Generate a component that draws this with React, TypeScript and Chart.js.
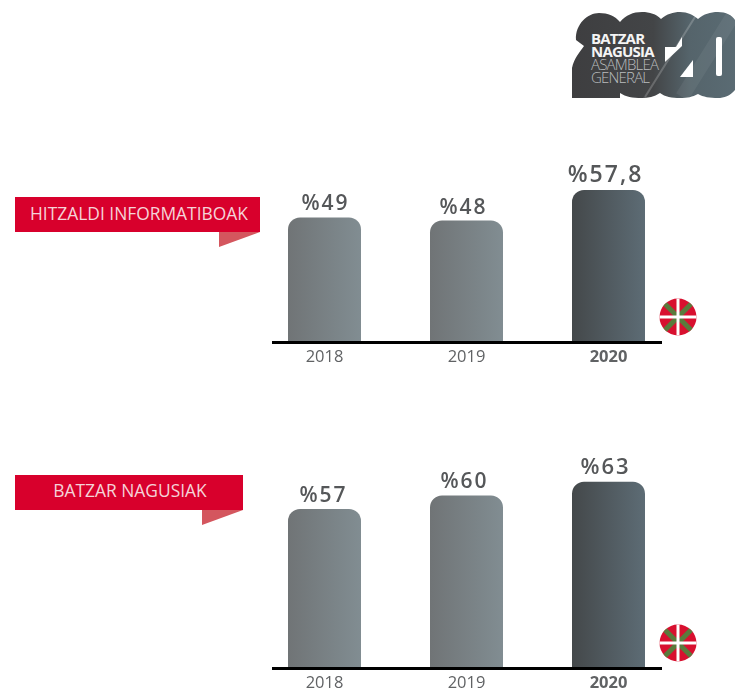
import React, { useEffect, useRef } from "react";
import { Chart, registerables } from "chart.js";

Chart.register(...registerables);

const years = ["2018", "2019", "2020"];
const hitzaldiValues = [49, 48, 57.8];
const batzarValues = [57, 60, 63];
const FONT = '"Open Sans", sans-serif';

function makeConfig(values: number[], min: number, max: number, axisHeight: number, shift: number[], lastSize: number): any {
  const barW = 73;
  const grad = (ctx: any) => {
    const chart = ctx.chart;
    const sx = chart.scales?.x;
    if (!sx || ctx.dataIndex === undefined) return "#777";
    const c = sx.getPixelForValue(ctx.dataIndex);
    if (!Number.isFinite(c)) return "#777";
    const g = chart.ctx.createLinearGradient(c - barW / 2, 0, c + barW / 2, 0);
    if (ctx.dataIndex === 2) {
      g.addColorStop(0, "#44484a");
      g.addColorStop(1, "#5d6c75");
    } else {
      g.addColorStop(0, "#707476");
      g.addColorStop(1, "#818d92");
    }
    return g;
  };
  const overlay = {
    id: "overlay",
    afterDatasetsDraw(chart: any) {
      const { ctx, scales } = chart;
      const y0 = scales.y.getPixelForValue(min);
      ctx.save();
      ctx.fillStyle = "#000";
      ctx.fillRect(272, y0 - 1, 390, 3);
      ctx.fillStyle = "#555759";
      ctx.textAlign = "center";
      ctx.textBaseline = "alphabetic";
      (ctx as any).letterSpacing = "2px";
      values.forEach((v, i) => {
        const label = "%" + String(v).replace(".", ",");
        ctx.font = `600 ${i === 2 ? lastSize : 21}px ${FONT}`;
        ctx.fillText(
          label,
          scales.x.getPixelForValue(i) + shift[i],
          scales.y.getPixelForValue(v) - (i === 2 ? 8 : 7)
        );
      });
      ctx.restore();
    },
  };
  return {
    type: "bar",
    data: {
      labels: years,
      datasets: [
        {
          data: values,
          backgroundColor: grad,
          borderRadius: { topLeft: 12, topRight: 12, bottomLeft: 0, bottomRight: 0 },
          borderSkipped: "bottom",
          barPercentage: barW / 142,
          categoryPercentage: 1,
        },
      ],
    },
    options: {
      animation: false,
      responsive: false,
      maintainAspectRatio: false,
      layout: { padding: { left: 253.5, right: 55.5, top: 30, bottom: 0 } },
      plugins: { legend: { display: false }, tooltip: { enabled: false } },
      scales: {
        x: {
          grid: { display: false, drawTicks: false },
          border: { display: false },
          afterFit: (s: any) => {
            s.height = axisHeight;
          },
          ticks: {
            padding: 5,
            color: "#606264",
            font: (c: any) => ({ family: FONT, size: 16.5, weight: c.index === 2 ? "700" : "400" }),
          },
        },
        y: { display: false, min, max },
      },
    },
    plugins: [overlay],
  };
}

function BarChart({ values, min, max, top, height, axisHeight, shift, lastSize }: any) {
  const ref = useRef<HTMLCanvasElement>(null);
  useEffect(() => {
    const chart = new Chart(
      ref.current as HTMLCanvasElement,
      makeConfig(values, min, max, axisHeight, shift, lastSize)
    );
    return () => chart.destroy();
  }, []);
  return (
    <canvas
      ref={ref}
      width={735}
      height={height}
      style={{ position: "absolute", left: 0, top, width: 735, height }}
    />
  );
}

function Ribbon({ text, top, width, textCenter, lineH }: any) {
  const right = 15 + width;
  return (
    <>
      <svg width={735} height={60} style={{ position: "absolute", left: 0, top }}>
        <rect x={15} y={0} width={width} height={35} fill="#d8002c" />
        <polygon points={`${right - 41},35 ${right},35 ${right - 41},50`} fill="#d4565e" />
      </svg>
      <div
        style={{
          position: "absolute",
          top,
          left: textCenter - 150,
          width: 300,
          height: 35,
          textAlign: "center",
          color: "#f5d3d8",
          font: `400 17.4px/${lineH}px ${FONT}`,
        }}
      >
        {text}
      </div>
    </>
  );
}

function Flag({ cx, cy, id }: any) {
  return (
    <svg width={40} height={40} style={{ position: "absolute", left: cx - 20, top: cy - 20 }}>
      <defs>
        <clipPath id={id}>
          <circle cx={20} cy={20} r={18.5} />
        </clipPath>
      </defs>
      <g clipPath={`url(#${id})`}>
        <rect width={40} height={40} fill="#d8102f" />
        <path d="M0 0L40 40M40 0L0 40" stroke="#5a7a3c" strokeWidth={5} />
        <path d="M20 0V40M0 20H40" stroke="#fff" strokeWidth={3} />
      </g>
    </svg>
  );
}

const LOGO_BLOB =
  "M12 98 L12 68 C14 58 20 52 24 46 L16 40 C15 24 28 13 39 13 C48 13 55 16 60 22 C66 15 73 12 82 12 C90 12 96 14 101 19 C107 14 113 12 120 12 C128 12 133 15 138 19 C144 14 150 12 158 12 C166 12 172 15 175 20 L175 90 C170 96 164 98 158 98 C150 98 143 97 138 94 C132 97 128 98 120 98 C112 98 105 97 100 93 C94 97 88 98 82 98 C72 98 66 97 60 93 L60 98 Z";

function Logo() {
  return (
    <svg width={175} height={110} style={{ position: "absolute", left: 560, top: 0 }}>
      <defs>
        <linearGradient id="lg" x1="0" x2="1" y1="0" y2="0">
          <stop offset="0" stopColor="#3e3e40" />
          <stop offset="0.5" stopColor="#434547" />
          <stop offset="0.72" stopColor="#55646b" />
          <stop offset="1" stopColor="#5a6b73" />
        </linearGradient>
        <clipPath id="logoClip">
          <path d={LOGO_BLOB} />
        </clipPath>
      </defs>
      <path fill="url(#lg)" d={LOGO_BLOB} />
      <g clipPath="url(#logoClip)" stroke="#fff" fill="none">
        <path d="M135 17 L85 97" strokeWidth={2} opacity={0.2} />
        <path d="M172 17 L122 97" strokeWidth={14} opacity={0.06} />
      </g>
      <polygon points="105,47 116,47 122,37 122,46 105,62" fill="#fff" />
      <polygon points="120,77 133,60 133,77" fill="#fff" />
      <rect x={156} y={37} width={6} height={39} rx={2} fill="#fff" />
      <g fontFamily={FONT} fontSize={15} letterSpacing={-0.8}>
        <text x={31} y={44} fill="#f4f4f4" fontWeight={700}>BATZAR</text>
        <text x={31} y={57} fill="#f4f4f4" fontWeight={700}>NAGUSIA</text>
        <text x={31} y={70} fill="#b9bcbe" fontWeight={300}>ASAMBLEA</text>
        <text x={31} y={83} fill="#b9bcbe" fontWeight={300}>GENERAL</text>
      </g>
    </svg>
  );
}

export default function App() {
  return (
    <div style={{ position: "fixed", left: 0, top: 0, width: 735, height: 688, overflow: "hidden", background: "#fff" }}>
      <Logo />
      <Ribbon text="HITZALDI INFORMATIBOAK" top={197} width={245} textCenter={139} lineH={33} />
      <Ribbon text="BATZAR NAGUSIAK" top={475} width={228} textCenter={130} lineH={31} />
      <BarChart values={hitzaldiValues} min={9} max={70} top={122} height={260} axisHeight={40} shift={[1, -3, -3]} lastSize={23} />
      <BarChart values={batzarValues} min={22} max={65.6} top={440} height={248} axisHeight={20} shift={[-1, -2, -3]} lastSize={22} />
      <Flag cx={678} cy={317} id="f1" />
      <Flag cx={678} cy={643} id="f2" />
    </div>
  );
}
